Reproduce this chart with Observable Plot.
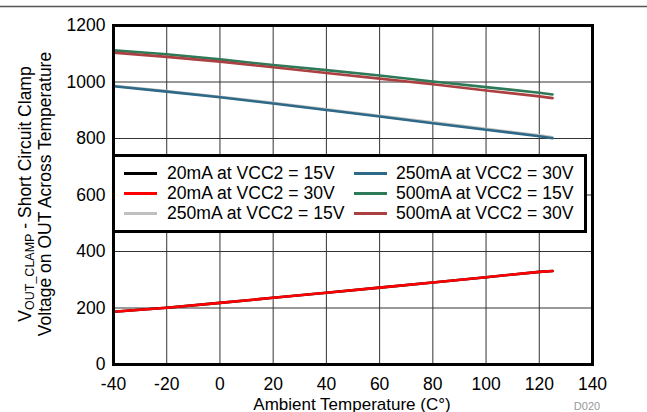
<!DOCTYPE html>
<html>
<head>
<meta charset="utf-8">
<script src="https://cdn.jsdelivr.net/npm/d3@7"></script>
<script src="https://cdn.jsdelivr.net/npm/@observablehq/plot@0.6"></script>
<style>
  body { margin: 0; background: #fff; }
  #wrap { position: relative; width: 647px; height: 412px; overflow: hidden; font-family: "Liberation Sans", Arial, sans-serif; }
  #legend { position: absolute; left: 112px; top: 154px; width: 469px; height: 73px; border: 3px solid #000; background: #fff; }
  .item { position: absolute; font-size: 17.6px; line-height: 20px; white-space: nowrap; }
  .sw { position: absolute; height: 3px; width: 33px; }
</style>
</head>
<body>
<div id="wrap"></div>
<script>
const temps = [-40, -20, 0, 20, 40, 60, 80, 100, 120, 125];
const s20mA15V  = [187, 201, 218, 236, 254, 272, 290, 309, 328, 331];
const s20mA30V  = [187, 201, 218, 236, 254, 272, 290, 309, 328, 331];
const s250mA15V = [987, 968, 948, 926, 903, 880, 857, 834, 811, 804];
const s250mA30V = [985, 966, 946, 924, 901, 878, 854, 831, 808, 801];
const s500mA15V = [1112, 1098, 1080, 1060, 1042, 1023, 1002, 982, 962, 956];
const s500mA30V = [1104, 1089, 1072, 1052, 1032, 1012, 992, 970, 949, 943];
const seriesNames = ["20mA at VCC2 = 15V", "20mA at VCC2 = 30V", "250mA at VCC2 = 15V",
                     "250mA at VCC2 = 30V", "500mA at VCC2 = 15V", "500mA at VCC2 = 30V"];
const seriesValues = [s20mA15V, s20mA30V, s250mA15V, s250mA30V, s500mA15V, s500mA30V];
const xTicks = [-40, -20, 0, 20, 40, 60, 80, 100, 120, 140];
const yTicks = [0, 200, 400, 600, 800, 1000, 1200];

const colors = ["#000000", "#ff0000", "#c0c0c0", "#2e6a88", "#2e7a58", "#ac4040"];

const rows = [];
seriesNames.forEach((name, i) => temps.forEach((t, j) => rows.push({series: name, t, v: seriesValues[i][j]})));

const font = '"Liberation Sans", Arial, sans-serif';
const fs = 17.5;
const chart = Plot.plot({
  width: 647, height: 412,
  marginLeft: 113, marginRight: 55, marginTop: 25, marginBottom: 48,
  style: {fontFamily: font, fontSize: fs + "px", color: "#000", background: "white", overflow: "visible"},
  x: {domain: [-40, 140], label: null},
  y: {domain: [0, 1200], label: null},
  marks: [
    Plot.gridX(xTicks, {stroke: "#333", strokeOpacity: 1, strokeWidth: 1}),
    Plot.gridY(yTicks, {stroke: "#333", strokeOpacity: 1, strokeWidth: 1}),
    Plot.axisX(xTicks, {tickSize: 0, tickPadding: 13, label: null, fontSize: fs, tickFormat: d => String(d)}),
    Plot.axisY(yTicks, {tickSize: 0, tickPadding: 8, label: null, fontSize: fs, tickFormat: d => String(d)}),
    ...seriesNames.map((name, i) => Plot.line(rows.filter(r => r.series === name), {x: "t", y: "v", stroke: colors[i], strokeWidth: 2.6})),
    Plot.frame({stroke: "#000", strokeWidth: 3})
  ]
});
const wrap = document.getElementById("wrap");
wrap.appendChild(chart);

const svg = d3.select(chart);
// top rule
svg.append("line").attr("x1", 0).attr("x2", 647).attr("y1", 6.5).attr("y2", 6.5)
  .attr("stroke", "#555").attr("stroke-width", 1.5);
// y label
const yl = svg.append("text").attr("transform", "translate(31,194) rotate(-90)")
  .attr("text-anchor", "middle").attr("font-size", fs).attr("fill", "#000");
yl.append("tspan").text("V");
yl.append("tspan").attr("font-size", 12.5).attr("dy", 3).text("OUT_CLAMP");
yl.append("tspan").attr("dy", -3).text(" - Short Circuit Clamp");
svg.append("text").attr("transform", "translate(51,194) rotate(-90)")
  .attr("text-anchor", "middle").attr("font-size", fs).attr("fill", "#000")
  .text("Voltage on OUT Across Temperature");
// x label
svg.append("text").attr("x", 352).attr("y", 409.5).attr("text-anchor", "middle")
  .attr("font-size", 17).attr("fill", "#000").text("Ambient Temperature (C°)");
svg.append("text").attr("x", 587).attr("y", 410).attr("font-size", 11).attr("fill", "#999").text("D020");

// legend
const legend = document.createElement("div");
legend.id = "legend";
seriesNames.forEach((name, i) => {
  const col = Math.floor(i / 3), row = i % 3;
  const sw = document.createElement("div");
  sw.className = "sw";
  sw.style.background = colors[i];
  sw.style.left = (col === 0 ? 9 : 239) + "px";
  sw.style.top = (16 + row * 20 - 1.5) + "px";
  legend.appendChild(sw);
  const it = document.createElement("div");
  it.className = "item";
  it.style.left = (col === 0 ? 52 : 281) + "px";
  it.style.top = (6 + row * 20) + "px";
  it.textContent = name;
  legend.appendChild(it);
});
wrap.appendChild(legend);
</script>
</body>
</html>
